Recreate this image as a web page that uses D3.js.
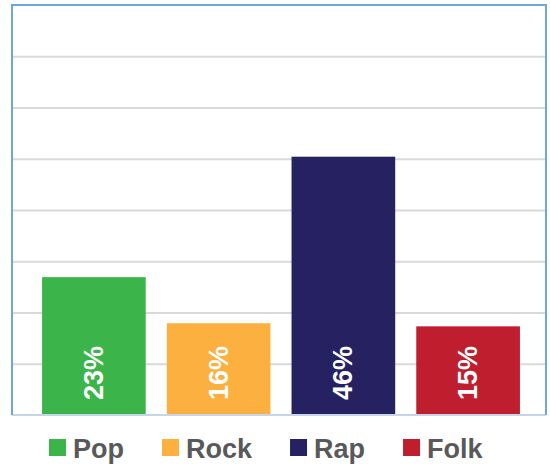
<!DOCTYPE html>
<html>
<head>
<meta charset="utf-8">
<script src="https://cdn.jsdelivr.net/npm/d3@7"></script>
<style>
body { margin: 0; background: #fff; }
text { font-family: "Liberation Sans", Arial, Helvetica, sans-serif; }
</style>
</head>
<body>
<script>
const width = 550;
const height = 468;

// chart values
const genres = ["Pop", "Rock", "Rap", "Folk"];
const values = [26.9, 17.9, 50.4, 17.3];
const labels = ["23%", "16%", "46%", "15%"];
const colors = ["#3bb54a", "#fbb040", "#262262", "#be1e2d"];
const gridTicks = [10, 20, 30, 40, 50, 60, 70];

const frame = { left: 12, right: 546, top: 5, bottom: 415 };

const x = d3.scaleBand()
	.domain(genres)
	.range([14, 548])
	.paddingInner(0.169)
	.paddingOuter(0.225);

const y = d3.scaleLinear()
	.domain([0, 80])
	.range([frame.bottom, frame.top]);

const svg = d3.select("body")
	.append("svg")
	.attr("width", width)
	.attr("height", height);

// gridlines
svg.append("g")
	.attr("transform", "translate(" + frame.left + ",0)")
	.call(d3.axisLeft(y).tickValues(gridTicks).tickSize(-(frame.right - frame.left)).tickFormat(""))
	.call(g => g.select(".domain").remove())
	.call(g => g.selectAll(".tick line").attr("stroke", "#d9d9d9").attr("stroke-width", 2));

// bars
svg.selectAll("rect.bar")
	.data(genres)
	.enter()
	.append("rect")
	.attr("class", "bar")
	.attr("x", d => x(d))
	.attr("y", (d, i) => y(values[i]))
	.attr("width", x.bandwidth())
	.attr("height", (d, i) => y(0) - y(values[i]))
	.attr("fill", (d, i) => colors[i]);

// value labels, rotated
svg.selectAll("text.val")
	.data(genres)
	.enter()
	.append("text")
	.attr("class", "val")
	.attr("transform", d => "translate(" + (x(d) + x.bandwidth() / 2) + "," + (frame.bottom - 15) + ") rotate(-90)")
	.attr("dominant-baseline", "central")
	.attr("fill", "#fff")
	.attr("font-weight", "bold")
	.attr("font-size", 27)
	.text((d, i) => labels[i]);

// frame
svg.append("line")
	.attr("x1", frame.left).attr("x2", frame.right)
	.attr("y1", frame.bottom).attr("y2", frame.bottom)
	.attr("stroke", "#c5d6ea").attr("stroke-width", 2);
svg.append("path")
	.attr("d", "M" + frame.left + "," + frame.bottom + "V" + frame.top + "H" + frame.right + "V" + frame.bottom)
	.attr("fill", "none")
	.attr("stroke", "#6fa6dc")
	.attr("stroke-width", 2);

// legend
const legend = svg.append("g");
let lx = 49;
genres.forEach((g, i) => {
	legend.append("rect")
		.attr("x", lx).attr("y", 439)
		.attr("width", 17).attr("height", 17)
		.attr("fill", colors[i]);
	const t = legend.append("text")
		.attr("x", lx + 24).attr("y", 458)
		.attr("fill", "#595959")
		.attr("font-weight", "bold")
		.attr("font-size", 27)
		.text(g);
	lx += 24 + t.node().getComputedTextLength() + 38;
});
</script>
</body>
</html>
